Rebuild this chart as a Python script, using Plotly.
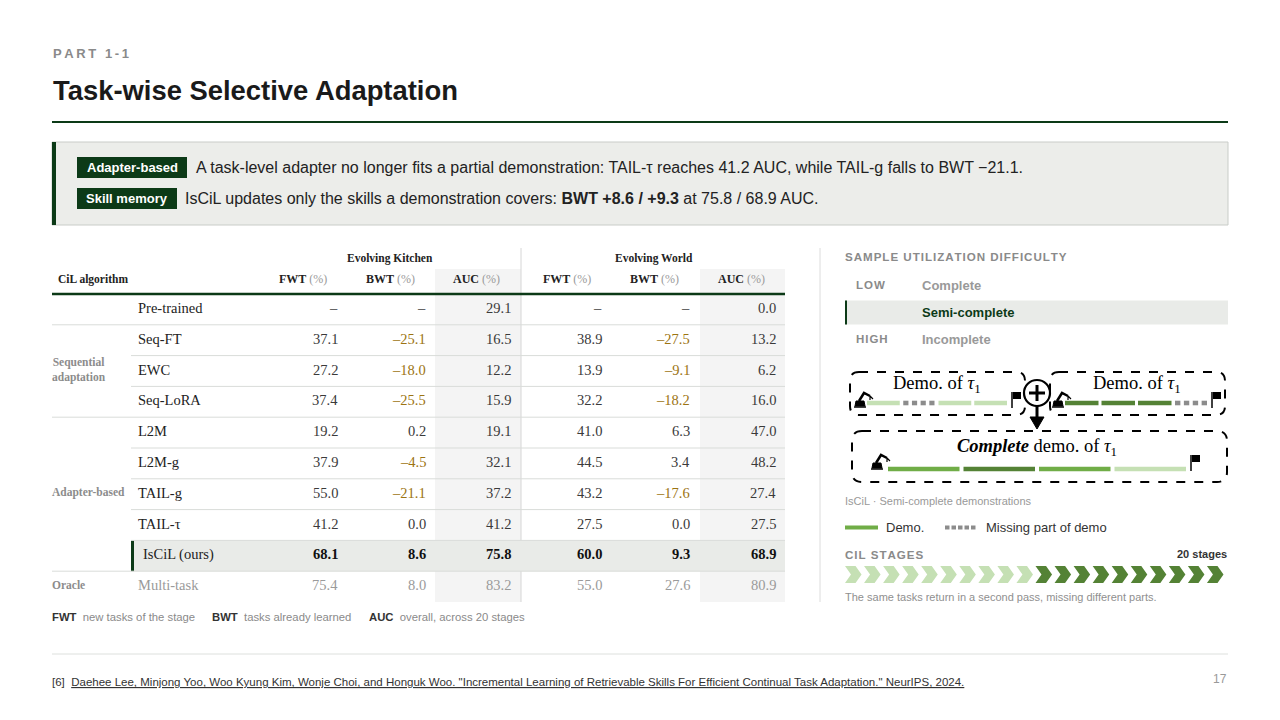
import plotly.graph_objects as go

# --- DATA ---
ALGORITHMS = ["Pre-trained", "Seq-FT", "EWC", "Seq-LoRA", "L2M", "L2M-g",
              "TAIL-g", "TAIL-τ", "IsCiL (ours)", "Multi-task"]
GROUP_NAMES = ["", "Sequential<br>adaptation", "Adapter-based", "Oracle"]
GROUP_SIZES = [1, 3, 5, 1]

KITCHEN_FWT = [None, 37.1, 27.2, 37.4, 19.2, 37.9, 55.0, 41.2, 68.1, 75.4]
KITCHEN_BWT = [None, -25.1, -18.0, -25.5, 0.2, -4.5, -21.1, 0.0, 8.6, 8.0]
KITCHEN_AUC = [29.1, 16.5, 12.2, 15.9, 19.1, 32.1, 37.2, 41.2, 75.8, 83.2]
WORLD_FWT = [None, 38.9, 13.9, 32.2, 41.0, 44.5, 43.2, 27.5, 60.0, 55.0]
WORLD_BWT = [None, -27.5, -9.1, -18.2, 6.3, 3.4, -17.6, 0.0, 9.3, 27.6]
WORLD_AUC = [0.0, 13.2, 6.2, 16.0, 47.0, 48.2, 27.4, 27.5, 68.9, 80.9]

OURS = "IsCiL (ours)"
ORACLE = "Multi-task"

DIFFICULTY_TAGS = ["LOW", "", "HIGH"]
DIFFICULTY_LEVELS = ["Complete", "Semi-complete", "Incomplete"]
SELECTED_LEVEL = "Semi-complete"

# demo segments: light / mid / dark = demo parts, missing = gap
DEMO_FIRST = ["light", "missing", "light", "light"]
DEMO_SECOND = ["dark", "dark", "dark", "missing"]
DEMO_COMPLETE = ["mid", "dark", "mid", "light"]

STAGE_PASS = [1, 1, 1, 1, 1, 1, 1, 1, 1, 1,
              2, 2, 2, 2, 2, 2, 2, 2, 2, 2]

# --- STYLE ---
SANS = "Liberation Sans, Arial, sans-serif"
SERIF = "Liberation Serif, Times New Roman, serif"
DARK_GREEN = "#0c3a17"
INK = "#222222"
GRAY = "#8a8a8a"
NEG = "#9c7412"
SEG_COLORS = {"light": "#c5e0b4", "mid": "#70ad47", "dark": "#548235"}
PASS_COLORS = {1: "#c5e0b4", 2: "#548235"}
PAGE_OFFSET = 8  # browser body margin
HAIR = "\u200a"

shapes = []
annotations = []


def text(x, y, s, size=13, color=INK, family=SANS, xanchor="left", yanchor="middle"):
    annotations.append(dict(x=x, y=y, xref="x", yref="y", text=s, showarrow=False,
                            xanchor=xanchor, yanchor=yanchor,
                            font=dict(size=size, color=color, family=family)))


def rect(x0, y0, x1, y1, fill, line=None, width=0, dash=None):
    shapes.append(dict(type="rect", xref="x", yref="y", x0=x0, y0=y0, x1=x1, y1=y1,
                       fillcolor=fill, line=dict(color=line or fill, width=width, dash=dash),
                       layer="above"))


def hline(x0, x1, y, color, width=1):
    shapes.append(dict(type="line", xref="x", yref="y", x0=x0, x1=x1, y0=y, y1=y,
                       line=dict(color=color, width=width), layer="above"))


def vline(x, y0, y1, color, width=1):
    shapes.append(dict(type="line", xref="x", yref="y", x0=x, x1=x, y0=y0, y1=y1,
                       line=dict(color=color, width=width), layer="above"))


def path(d, fill=None, line="black", width=0, dash=None):
    shapes.append(dict(type="path", xref="x", yref="y", path=d,
                       fillcolor=fill or "rgba(0,0,0,0)",
                       line=dict(color=line, width=width, dash=dash), layer="above"))


def spaced(s, sep="\u2009"):
    return sep.join(s)


def fmt(v):
    if v is None:
        return "–"
    return ("–" if v < 0 else "") + f"{abs(v):.1f}"


# --- HEADER ---
text(51, 53, f"<b>{spaced('PART 1-1')}</b>", size=13, color=GRAY, family=SANS)
text(51, 90, "<b>Task-wise Selective Adaptation</b>", size=27.4, color="#1a1a1a")
hline(52, 1228, 122, DARK_GREEN, 2)

# --- CALLOUT ---
rect(52, 142, 1228, 225, "#ecedea", line="#c9ccc8", width=1)
rect(52, 142, 56, 225, DARK_GREEN)
i_tail_t = ALGORITHMS.index("TAIL-τ")
i_tail_g = ALGORITHMS.index("TAIL-g")
i_ours = ALGORITHMS.index(OURS)
rect(77, 157, 187, 178, DARK_GREEN)
text(132, 167.5, "<b>Adapter-based</b>", size=13, color="white", xanchor="center")
text(194, 167.5, f"A task-level adapter no longer fits a partial demonstration: TAIL-τ reaches "
     f"{KITCHEN_AUC[i_tail_t]:.1f} AUC, while TAIL-g falls to BWT −{abs(KITCHEN_BWT[i_tail_g]):.1f}.",
     size=16, color=INK)
rect(77, 188, 177, 209, DARK_GREEN)
text(127, 198.5, "<b>Skill memory</b>", size=13, color="white", xanchor="center")
text(183, 198.5, f"IsCiL updates only the skills a demonstration covers: "
     f"<b>BWT +{KITCHEN_BWT[i_ours]:.1f} / +{WORLD_BWT[i_ours]:.1f}</b> at "
     f"{KITCHEN_AUC[i_ours]:.1f} / {WORLD_AUC[i_ours]:.1f} AUC.", size=16, color=INK)

# --- TABLE ---
T_LEFT, T_RIGHT, NAME_X = 52, 785, 131
HEAD_Y, TOP, ROW_H = 279, 294, 30.8
n_rows = len(ALGORITHMS)
bottom = TOP + ROW_H * n_rows
columns = [
    ("FWT", KITCHEN_FWT, 340, False),
    ("BWT", KITCHEN_BWT, 428, False),
    ("AUC", KITCHEN_AUC, 513, True),
    ("FWT", WORLD_FWT, 604, False),
    ("BWT", WORLD_BWT, 692, False),
    ("AUC", WORLD_AUC, 778, True),
]
# shaded AUC columns
rect(435, 269, 521, bottom, "#f4f4f4")
rect(700, 269, 785, bottom, "#f4f4f4")
vline(521, 248, bottom, "#d6d6d6")

text(390, 258, "<b>Evolving Kitchen</b>", size=11.5, family=SERIF, color=INK, xanchor="center")
text(654, 258, "<b>Evolving World</b>", size=11.5, family=SERIF, color=INK, xanchor="center")
text(56, HEAD_Y, "<b>CiL algorithm</b>", size=11.5, family=SERIF, color=INK)
for name, vals, xr, shaded in columns:
    text(xr - 11, HEAD_Y, f"<b>{name}</b> <span style='color:#9a9a9a'>(%)</span>",
         size=12, family=SERIF, color=INK, xanchor="right")

# group boundaries
starts = []
acc = 0
for g in GROUP_SIZES:
    starts.append(acc)
    acc += g

# highlighted row
r_ours = ALGORITHMS.index(OURS)
rect(NAME_X, TOP + ROW_H * r_ours, T_RIGHT, TOP + ROW_H * (r_ours + 1), "#e9ebe8")
rect(NAME_X, TOP + ROW_H * r_ours, NAME_X + 3, TOP + ROW_H * (r_ours + 1), DARK_GREEN)

for r in range(1, n_rows):
    y = TOP + ROW_H * r
    hline(T_LEFT if r in starts else NAME_X, T_RIGHT, y, "#d9dcd9", 1)
hline(T_LEFT, T_RIGHT, TOP, DARK_GREEN, 2.5)

for gname, s, g in zip(GROUP_NAMES, starts, GROUP_SIZES):
    if gname:
        yc = TOP + ROW_H * (s + g / 2) - 1.5
        text(50, yc, f"<b>{gname}</b>", size=11.5, family=SERIF, color="#8c8c8c")

for r, alg in enumerate(ALGORITHMS):
    yc = TOP + ROW_H * (r + 0.5) - 1.5
    is_ours = alg == OURS
    is_oracle = alg == ORACLE
    name_color = "#9a9a9a" if is_oracle else INK
    text(141 if is_ours else 136, yc, alg, size=14.5, family=SERIF, color=name_color)
    for name, vals, xr, shaded in columns:
        v = vals[r]
        s = fmt(v)
        if is_oracle:
            col = "#9a9a9a"
        elif name == "BWT" and v is not None and v < 0:
            col = NEG
        else:
            col = "#3a3a3a"
        if is_ours:
            s = f"<b>{s}</b>"
            col = "#111111"
        text(xr, yc, s, size=14.5, family=SERIF, color=col, xanchor="right")

# metric legend
text(50, 617, "<b>FWT</b>  <span style='color:#8a8a8a'>new tasks of the stage</span>", size=11.3, color="#333")
text(210, 617, "<b>BWT</b>  <span style='color:#8a8a8a'>tasks already learned</span>", size=11.3, color="#333")
text(367, 617, "<b>AUC</b>  <span style='color:#8a8a8a'>overall, across 20 stages</span>", size=11.3, color="#333")

# panel divider
vline(820, 248, 602, "#dcdcdc")

# --- RIGHT PANEL ---
P_LEFT, P_RIGHT = 845, 1228
text(843, 256, f"<b>{spaced('SAMPLE UTILIZATION DIFFICULTY', HAIR)}</b>", size=11.6, color=GRAY)
for k, (tag, level) in enumerate(zip(DIFFICULTY_TAGS, DIFFICULTY_LEVELS)):
    yc = 285 + 27 * k
    if level == SELECTED_LEVEL:
        rect(P_LEFT, yc - 11.5, P_RIGHT, yc + 12.5, "#e9ebe8")
        rect(P_LEFT, yc - 11.5, P_LEFT + 2, yc + 12.5, DARK_GREEN)
        text(920, yc, f"<b>{level}</b>", size=13, color=DARK_GREEN)
    else:
        text(920, yc, f"<b>{level}</b>", size=13, color="#999999")
    if tag:
        text(854, yc, f"<b>{spaced(tag, HAIR)}</b>", size=11.5, color="#8a8a8a")


def rrect_path(x0, y0, x1, y1, r):
    return (f"M{x0 + r},{y0} L{x1 - r},{y0} Q{x1},{y0} {x1},{y0 + r} L{x1},{y1 - r} "
            f"Q{x1},{y1} {x1 - r},{y1} L{x0 + r},{y1} Q{x0},{y1} {x0},{y1 - r} "
            f"L{x0},{y0 + r} Q{x0},{y0} {x0 + r},{y0} Z")


def robot(x, y):
    # small robot arm icon, base at (x, y) bottom-left
    path(f"M{x},{y} L{x + 10},{y} L{x + 9},{y - 5} L{x + 1},{y - 5} Z", fill="black",
         line="black", width=1)
    path(f"M{x + 4},{y - 5} L{x + 9},{y - 13} L{x + 15},{y - 10}", line="black", width=2.5)
    path(f"M{x + 15},{y - 10} L{x + 18},{y - 7} M{x + 15},{y - 10} L{x + 15},{y - 6}",
         line="black", width=1.2)
    hline(x - 1, x + 11, y + 1, "black", 1.5)


def flag(x, y):
    vline(x, y - 13, y + 3, "black", 1.5)
    rect(x + 1, y - 13, x + 9, y - 6, "black")


def demo_bar(segs, x0, x1, y, gap=3, h=4.5):
    w = (x1 - x0 - gap * (len(segs) - 1)) / len(segs)
    for j, seg in enumerate(segs):
        sx = x0 + j * (w + gap)
        if seg == "missing":
            d = (w + 2) / 4
            for q in range(4):
                rect(sx + q * d + 0.5, y - 2.3, sx + q * d + d - 3, y + 2.3, "#8c8c8c")
        else:
            rect(sx, y - h / 2, sx + w, y + h / 2, SEG_COLORS[seg])


tau = "<i>τ</i><sub>1</sub>"
# first partial demo
path(rrect_path(850, 372, 1025, 415, 9), line="black", width=2, dash="dash")
text(937, 384, f"Demo. of {tau}", size=18.5, family=SERIF, color="black", xanchor="center")
robot(855, 406)
demo_bar(DEMO_FIRST, 867, 1007, 403)
flag(1012, 405)
# second partial demo
path(rrect_path(1050, 372, 1225, 415, 9), line="black", width=2, dash="dash")
text(1137, 384, f"Demo. of {tau}", size=18.5, family=SERIF, color="black", xanchor="center")
robot(1053, 406)
demo_bar(DEMO_SECOND, 1065, 1208, 403)
flag(1212, 405)
# merge symbol
shapes.append(dict(type="circle", xref="x", yref="y", x0=1024, x1=1050, y0=380, y1=406,
                   fillcolor="white", line=dict(color="black", width=2.2), layer="above"))
hline(1029, 1045, 393, "black", 3)
vline(1037, 385, 401, "black", 3)
vline(1037, 406, 418, "black", 3)
path("M1030,417 L1044,417 L1037,429 Z", fill="black", line="black", width=1)
# complete demo
path(rrect_path(852, 431, 1227, 482, 10), line="black", width=2, dash="dash")
text(1037, 447, f"<b><i>Complete</i></b> demo. of {tau}", size=18.5, family=SERIF,
     color="black", xanchor="center")
robot(872, 468)
demo_bar(DEMO_COMPLETE, 888, 1186, 469, gap=4)
flag(1191, 468)

text(843, 501, "IsCiL · Semi-complete demonstrations", size=11, color="#999999")

# demo legend
rect(845, 525.5, 878, 529.5, SEG_COLORS["mid"])
text(884, 527.5, "Demo.", size=13, color="#333")
for q in range(5):
    rect(945 + q * 6.5, 525.5, 945 + q * 6.5 + 4.5, 529.5, "#8c8c8c")
text(984, 527.5, "Missing part of demo", size=13, color="#333")

# stages
text(843, 554, f"<b>{spaced('CIL STAGES', HAIR)}</b>", size=11.6, color=GRAY)
text(1229, 554, f"<b>{len(STAGE_PASS)} stages</b>", size=11, color="#333", xanchor="right")
step = (P_RIGHT - 2 - P_LEFT) / len(STAGE_PASS)
for k, p in enumerate(STAGE_PASS):
    x0 = P_LEFT + k * step
    x1 = x0 + step - 2.5
    t, b, m = 566, 583, 574.5
    path(f"M{x0},{t} L{x1 - 6},{t} L{x1},{m} L{x1 - 6},{b} L{x0},{b} L{x0 + 6},{m} Z",
         fill=PASS_COLORS[p], line=PASS_COLORS[p], width=0)
text(843, 597, "The same tasks return in a second pass, missing different parts.",
     size=11, color="#8f8f8f")

# --- FOOTER ---
hline(52, 1228, 654, "#dde0dd", 1)
text(50, 682, "[6]  <span style='text-decoration:underline'>Daehee Lee, Minjong Yoo, Woo Kyung Kim, "
     "Wonje Choi, and Honguk Woo. \"Incremental Learning of Retrievable Skills For Efficient "
     "Continual Task Adaptation.\" NeurIPS, 2024.</span>", size=11.5, color="#333")
text(1229, 679, "17", size=12, color="#999999", xanchor="right")

fig = go.Figure()
fig.update_layout(
    width=1280, height=720, autosize=False,
    margin=dict(l=0, r=0, t=0, b=0),
    paper_bgcolor="white", plot_bgcolor="white",
    xaxis=dict(range=[PAGE_OFFSET, 1280 + PAGE_OFFSET], visible=False, fixedrange=True),
    yaxis=dict(range=[720 + PAGE_OFFSET, PAGE_OFFSET], visible=False, fixedrange=True),
    shapes=shapes, annotations=annotations, showlegend=False,
)
fig.write_html("out.html")
